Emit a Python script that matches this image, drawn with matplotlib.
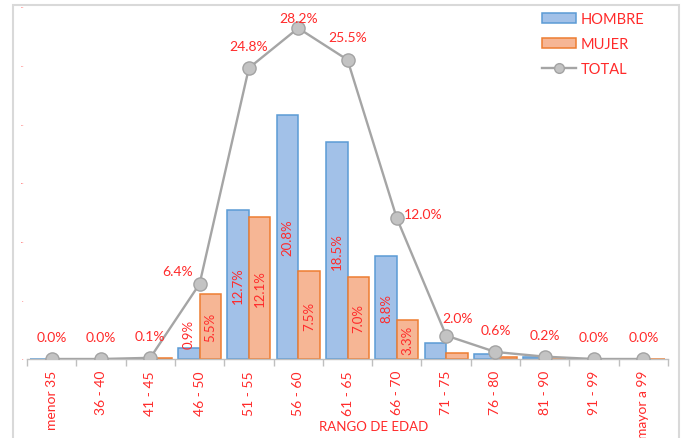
import matplotlib
matplotlib.use("Agg")
import matplotlib.pyplot as plt
from matplotlib.patches import Rectangle, Patch
from matplotlib.lines import Line2D
import numpy as np

# Age-range distribution (percent of total)
categories = ["menor 35", "36 - 40", "41 - 45", "46 - 50", "51 - 55", "56 - 60",
              "61 - 65", "66 - 70", "71 - 75", "76 - 80", "81 - 90", "91 - 99",
              "mayor a 99"]
hombre = [0.04, 0.0, 0.0, 0.9, 12.7, 20.8, 18.5, 8.8, 1.4, 0.4, 0.2, 0.0, 0.0]
mujer = [0.0, 0.0, 0.1, 5.5, 12.1, 7.5, 7.0, 3.3, 0.5, 0.2, 0.0, 0.0, 0.04]
total = [0.0, 0.0, 0.1, 6.4, 24.8, 28.2, 25.5, 12.0, 2.0, 0.6, 0.2, 0.0, 0.0]
yticks = [0, 5, 10, 15, 20, 25, 30]

# Bar categories that carry a value label
labelled = ["46 - 50", "51 - 55", "56 - 60", "61 - 65", "66 - 70"]

# Pixel offsets of the TOTAL labels relative to their markers
label_offsets = {"46 - 50": (-22, 13), "56 - 60": (0, 10), "61 - 65": (0, 23),
                 "66 - 70": (26, 4), "71 - 75": (11, 18)}

RED = "#ff2a2a"
plt.rcParams["font.family"] = ["Lato", "DejaVu Sans"]

W, H = 688, 439
fig = plt.figure(figsize=(W / 100, H / 100), dpi=100)
ax = fig.add_axes([27 / W, 1 - 360 / H, (668 - 27) / W, (360 - 8) / H])

# outer chart border
fig.patches.append(Rectangle((13 / W, -0.05), (679 - 13) / W, 1.05 - 6 / H,
                             transform=fig.transFigure, fill=False,
                             edgecolor="#d9d9d9", linewidth=1.5, zorder=0))

x = np.arange(len(categories))
bw = 0.435
ax.bar(x - bw / 2, hombre, bw, color="#a2c1e8", edgecolor="#5b9bd5",
       linewidth=1.1, zorder=2, label="HOMBRE")
ax.bar(x + bw / 2, mujer, bw, color="#f6b695", edgecolor="#ed7d31",
       linewidth=1.1, zorder=2, label="MUJER")
ax.plot(x, total, color="#a5a5a5", linewidth=1.7, marker="o", markersize=9.5,
        markerfacecolor="#c3c3c3", markeredgecolor="#a3a3a3",
        markeredgewidth=1.0, zorder=4, label="TOTAL")

# vertical value labels inside the bars
for i, cat in enumerate(categories):
    if cat not in labelled:
        continue
    for xpos, v in ((i - bw / 2, hombre[i]), (i + bw / 2, mujer[i])):
        txt = f"{v:.1f}%"
        if v < 2.5:
            ax.text(xpos, v, txt, rotation=90, ha="center", va="bottom",
                    color=RED, fontsize=9.5, zorder=5)
        else:
            ax.text(xpos, v / 2, txt, rotation=90, ha="center", va="center",
                    color=RED, fontsize=9.5, zorder=5)

# TOTAL labels
for i, cat in enumerate(categories):
    dx, dy = label_offsets.get(cat, (0, 22))
    ax.annotate(f"{total[i]:.1f}%", (x[i], total[i]), xytext=(dx, dy),
                textcoords="offset pixels", ha="center", va="center",
                color=RED, fontsize=10, zorder=6)

ax.set_xlim(-0.5, len(categories) - 0.5)
ax.set_ylim(0, 30)

# faint tick labels on the value axis
ax.set_yticks(yticks)
ax.set_yticklabels([f"{t}%" for t in yticks], fontsize=1.2, color=RED)
ax.tick_params(axis="y", length=0, pad=2)

ax.set_xticks(x)
ax.set_xticklabels(categories, rotation=90, color=RED, fontsize=10,
                   va="top", ha="center")
ax.set_xticks(np.arange(-0.5, len(categories)), minor=True)
ax.tick_params(axis="x", which="major", length=0, pad=8)
ax.tick_params(axis="x", which="minor", length=5, color="#bfbfbf", width=1)

for s in ("top", "right", "left"):
    ax.spines[s].set_visible(False)
ax.spines["bottom"].set_color("#bfbfbf")
ax.spines["bottom"].set_linewidth(1)
ax.set_facecolor("none")

fig.text(374 / W, 1 - 427 / H, "RANGO DE EDAD", ha="center", va="center",
         color=RED, fontsize=9.5)

handles = [Patch(facecolor="#a2c1e8", edgecolor="#5b9bd5", linewidth=1.1),
           Patch(facecolor="#f6b695", edgecolor="#ed7d31", linewidth=1.1),
           Line2D([], [], color="#a5a5a5", linewidth=1.7, marker="o",
                  markersize=7, markerfacecolor="#c3c3c3",
                  markeredgecolor="#a3a3a3")]
leg = fig.legend(handles, ["HOMBRE", "MUJER", "TOTAL"], loc="upper left",
                 bbox_to_anchor=(542 / W, 1 - 13 / H), frameon=False,
                 fontsize=10.5, handlelength=2.3, handleheight=0.7,
                 handletextpad=0.35, labelspacing=0.75, borderpad=0,
                 borderaxespad=0)
for t in leg.get_texts():
    t.set_color(RED)

fig.savefig("out.png", dpi=100)
